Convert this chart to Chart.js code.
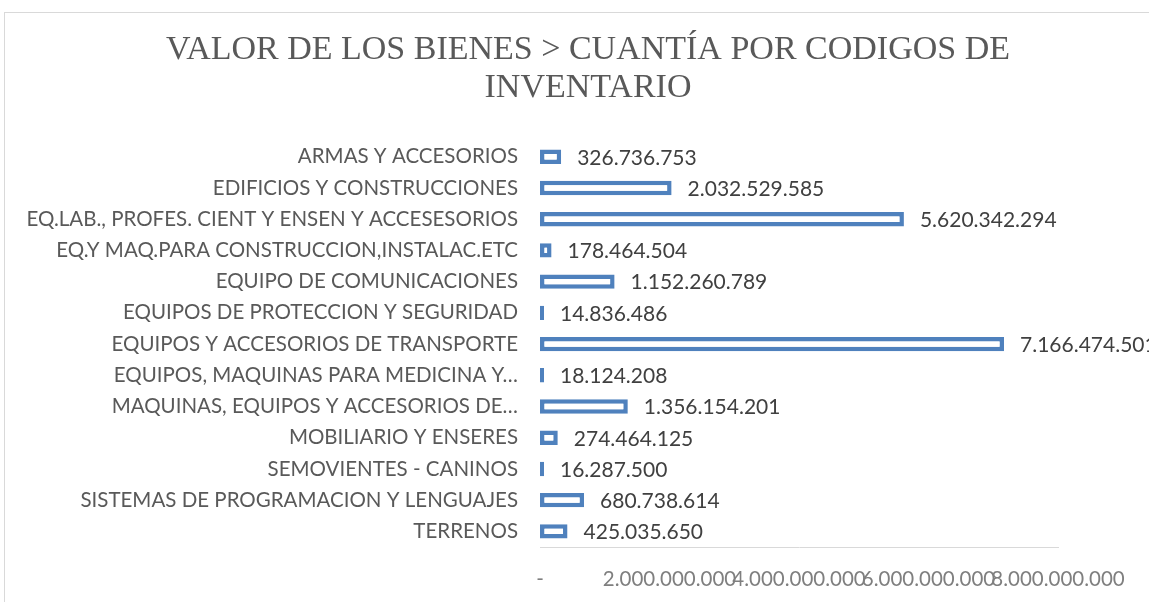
<!DOCTYPE html>
<html>
<head>
<meta charset="utf-8">
<script src="https://cdn.jsdelivr.net/npm/chart.js@4.4.1/dist/chart.umd.min.js"></script>
<style>
  html, body { margin: 0; padding: 0; background: #fff; overflow: hidden; }
  #wrap { position: absolute; left: 4px; top: 12px; width: 1166px; height: 590px;
          border-left: 1px solid #d9d9d9; border-top: 1px solid #d9d9d9; }
  canvas { display: block; }
</style>
</head>
<body>
<div id="wrap"><canvas id="c" width="1166" height="590"></canvas></div>
<script>
const titleLines = ['VALOR DE LOS BIENES > CUANTÍA POR CODIGOS DE', 'INVENTARIO'];
const categories = [
  'ARMAS Y ACCESORIOS',
  'EDIFICIOS Y CONSTRUCCIONES',
  'EQ.LAB., PROFES. CIENT Y ENSEN Y ACCESESORIOS',
  'EQ.Y MAQ.PARA CONSTRUCCION,INSTALAC.ETC',
  'EQUIPO DE COMUNICACIONES',
  'EQUIPOS DE PROTECCION Y SEGURIDAD',
  'EQUIPOS Y ACCESORIOS DE TRANSPORTE',
  'EQUIPOS, MAQUINAS PARA MEDICINA Y…',
  'MAQUINAS, EQUIPOS Y ACCESORIOS DE…',
  'MOBILIARIO Y ENSERES',
  'SEMOVIENTES - CANINOS',
  'SISTEMAS DE PROGRAMACION Y LENGUAJES',
  'TERRENOS'
];
const values = [326736753, 2032529585, 5620342294, 178464504, 1152260789, 14836486,
  7166474501, 18124208, 1356154201, 274464125, 16287500, 680738614, 425035650];
const tickValues = [0, 2000000000, 4000000000, 6000000000, 8000000000];
const tickLabels = ['-', '2.000.000.000', '4.000.000.000', '6.000.000.000', '8.000.000.000'];

function fmt(v) {
  return String(Math.round(v)).replace(/\B(?=(\d{3})+(?!\d))/g, '.');
}

const labelFont = '"Lato", "Open Sans", sans-serif';

const dataLabels = {
  id: 'dataLabels',
  afterDatasetsDraw(chart) {
    const ctx = chart.ctx;
    const meta = chart.getDatasetMeta(0);
    ctx.save();
    ctx.font = '21px ' + labelFont;
    ctx.fillStyle = '#404040';
    ctx.textAlign = 'left';
    ctx.textBaseline = 'middle';
    meta.data.forEach((bar, i) => {
      ctx.fillText(fmt(values[i]), bar.x + 16, bar.y + 1);
    });
    ctx.restore();
  }
};

new Chart(document.getElementById('c'), {
  type: 'bar',
  data: {
    labels: categories,
    datasets: [{
      data: values,
      backgroundColor: '#ffffff',
      borderColor: '#4f81bd',
      borderWidth: 4.5,
      borderSkipped: false,
      barPercentage: 0.46,
      categoryPercentage: 1,
      minBarLength: 4
    }]
  },
  options: {
    indexAxis: 'y',
    responsive: false,
    animation: false,
    devicePixelRatio: 1,
    layout: { padding: 0 },
    plugins: {
      legend: { display: false },
      tooltip: { enabled: false },
      title: {
        display: true,
        text: titleLines,
        color: '#595959',
        font: { family: '"Liberation Serif", "Times New Roman", serif', size: 34, weight: 'normal', lineHeight: 1.12 },
        padding: { top: 18, bottom: 34 }
      }
    },
    scales: {
      x: {
        min: 0,
        max: 8000000000,
        afterBuildTicks(scale) { scale.ticks = tickValues.map(v => ({ value: v })); },
        afterFit(scale) { scale.height = 56; },
        grid: { display: false, drawTicks: false },
        border: { display: true, color: '#d9d9d9', width: 1 },
        ticks: {
          autoSkip: false,
          maxRotation: 0,
          minRotation: 0,
          padding: 20,
          color: '#7f7f7f',
          font: { family: labelFont, size: 20.5 },
          callback: (v, i) => tickLabels[i]
        }
      },
      y: {
        afterFit(scale) { scale.width = 535; },
        grid: { display: false, drawTicks: false },
        border: { display: false },
        ticks: {
          autoSkip: false,
          padding: 22,
          color: '#595959',
          font: { family: labelFont, size: 20.5 }
        }
      },
      yRight: {
        type: 'category',
        position: 'right',
        afterFit(scale) { scale.width = 113; },
        grid: { display: false, drawTicks: false },
        border: { display: false },
        ticks: { display: false }
      }
    }
  },
  plugins: [dataLabels]
});
</script>
</body>
</html>
